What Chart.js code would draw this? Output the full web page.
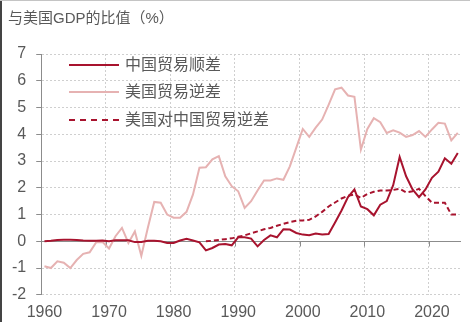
<!DOCTYPE html>
<html>
<head>
<meta charset="utf-8">
<script src="https://cdn.jsdelivr.net/npm/chart.js@4/dist/chart.umd.min.js"></script>
<style>
  body { margin: 0; background: #fff; }
  #wrap { position: relative; width: 470px; height: 322px; overflow: hidden; font-family: "Liberation Sans", "Noto Sans CJK SC", sans-serif; color: #595959; }
  #c { position: absolute; left: 0; top: 0; }
  #title { position: absolute; left: 8px; top: 8px; font-size: 15px; line-height: 20px; }
  .leg { position: absolute; left: 69px; font-size: 16px; line-height: 20px; display: flex; align-items: center; }
  .leg span.ln { display: inline-block; width: 50px; height: 0; border-top: 2px solid; margin-right: 6px; }
  #edgeL { position: absolute; left: 0; top: 0; width: 2px; height: 322px; background: #444; }
  #edgeT { position: absolute; left: 0; top: 0; width: 470px; height: 1px; background: #c4c4c4; }
</style>
</head>
<body>
<div id="wrap">
  <canvas id="c" width="470" height="322"></canvas>
  <div id="title">与美国GDP的比值（%）</div>
  <div class="leg" style="top:55px"><span class="ln" style="border-color:#a8132e"></span>中国贸易顺差</div>
  <div class="leg" style="top:82px"><span class="ln" style="border-color:#e6b2b2"></span>美国贸易逆差</div>
  <div class="leg" style="top:110px"><span class="ln" style="border-top:2px dashed #a8132e"></span>美国对中国贸易逆差</div>
  <div id="edgeL"></div>
  <div id="edgeT"></div>
</div>
<script>
// years 1960..2024
const years = Array.from({length: 65}, (_, i) => 1960 + i);

// 中国贸易顺差 / 美国GDP (%)
const chinaSurplus = [
  0.00, 0.02, 0.05, 0.06, 0.06, 0.05, 0.03, 0.02, 0.02, 0.03,
  0.00, 0.04, 0.04, 0.04, -0.03, -0.03, 0.02, 0.02, 0.00, -0.06,
  -0.06, 0.03, 0.09, 0.03, -0.04, -0.34, -0.25, -0.12, -0.10, -0.15,
  0.15, 0.15, 0.10, -0.19, 0.05, 0.22, 0.15, 0.45, 0.44, 0.31,
  0.25, 0.23, 0.29, 0.25, 0.27, 0.70, 1.15, 1.65, 1.94, 1.30,
  1.20, 0.97, 1.37, 1.50, 2.10, 3.15, 2.43, 1.94, 1.65, 1.94,
  2.37, 2.60, 3.10, 2.90, 3.30
];

// 美国贸易逆差 / 美国GDP (%)
const usDeficit = [
  -0.93, -1.00, -0.75, -0.80, -1.00, -0.70, -0.47, -0.41, -0.04, -0.03,
  -0.27, 0.19, 0.50, -0.06, 0.37, -0.54, 0.50, 1.47, 1.44, 1.00,
  0.88, 0.88, 1.10, 1.75, 2.75, 2.77, 3.06, 3.18, 2.43, 2.06,
  1.87, 1.25, 1.50, 1.90, 2.27, 2.27, 2.35, 2.30, 2.80, 3.50,
  4.20, 3.90, 4.25, 4.55, 5.10, 5.68, 5.74, 5.45, 5.40, 3.43,
  4.20, 4.60, 4.45, 4.05, 4.15, 4.06, 3.90, 3.97, 4.12, 3.90,
  4.18, 4.43, 4.40, 3.77, 4.05
];

// 美国对中国贸易逆差 / 美国GDP (%), from 1985
const usDeficitChina = [
  null, null, null, null, null, null, null, null, null, null,
  null, null, null, null, null, null, null, null, null, null,
  null, null, null, null, null, 0.00, 0.02, 0.05, 0.08, 0.11,
  0.17, 0.22, 0.30, 0.37, 0.45, 0.50, 0.58, 0.65, 0.72, 0.77,
  0.78, 0.80, 0.93, 1.10, 1.30, 1.45, 1.60, 1.70, 1.75, 1.62,
  1.77, 1.85, 1.90, 1.90, 1.92, 1.96, 1.83, 1.87, 1.96, 1.69,
  1.44, 1.44, 1.44, 1.00, 1.00
];

const axisGrey = '#8c8c8c';
const gridGrey = '#cfcfcf';
const textGrey = '#595959';

// zero line with small tick marks at decade boundaries
const zeroAxis = {
  id: 'zeroAxis',
  beforeDatasetsDraw(chart) {
    const {ctx, chartArea, scales: {x, y}} = chart;
    const y0 = Math.round(y.getPixelForValue(0)) + 0.5;
    ctx.save();
    ctx.strokeStyle = axisGrey;
    ctx.lineWidth = 1;
    ctx.beginPath();
    ctx.moveTo(chartArea.left, y0);
    ctx.lineTo(chartArea.right, y0);
    years.forEach((yr, i) => {
      if (i > 0 && yr % 10 === 0) {
        const bx = Math.round((x.getPixelForValue(i - 1) + x.getPixelForValue(i)) / 2) + 0.5;
        ctx.moveTo(bx, y0);
        ctx.lineTo(bx, y0 + 5);
      }
    });
    ctx.stroke();
    ctx.restore();
  }
};

new Chart(document.getElementById('c'), {
  type: 'line',
  data: {
    labels: years,
    datasets: [
      {data: chinaSurplus, borderColor: '#a8132e', borderWidth: 2, pointRadius: 0, tension: 0},
      {data: usDeficit, borderColor: '#e6b2b2', borderWidth: 2, pointRadius: 0, tension: 0},
      {data: usDeficitChina, borderColor: '#a8132e', borderWidth: 2, borderDash: [5, 3], pointRadius: 0, tension: 0}
    ]
  },
  options: {
    responsive: false,
    animation: false,
    layout: {padding: {left: 2, right: 9, top: 54, bottom: -8}},
    plugins: {legend: {display: false}, title: {display: false}, tooltip: {enabled: false}},
    scales: {
      x: {
        type: 'category',
        offset: true,
        grid: {
          offset: true,
          drawTicks: false,
          tickLength: 0,
          color: (c) => {
            const yr = years[c.index];
            return (c.index > 0 && yr !== undefined && yr % 10 === 0) ? gridGrey : 'rgba(0,0,0,0)';
          }
        },
        border: {display: false, dash: [2, 2]},
        ticks: {
          autoSkip: false,
          maxRotation: 0,
          padding: 8,
          color: textGrey,
          font: {family: 'Liberation Sans', size: 16},
          callback: (v, i) => (years[i] % 10 === 0 ? String(years[i]) : '')
        }
      },
      y: {
        min: -2,
        max: 7,
        ticks: {stepSize: 1, padding: 10, color: textGrey, font: {family: 'Liberation Sans', size: 16}},
        grid: {
          color: (c) => (c.tick && c.tick.value === 0 ? 'rgba(0,0,0,0)' : gridGrey),
          tickColor: axisGrey,
          tickLength: 5
        },
        border: {color: axisGrey, dash: [2, 2]}
      }
    }
  },
  plugins: [zeroAxis]
});
</script>
</body>
</html>
